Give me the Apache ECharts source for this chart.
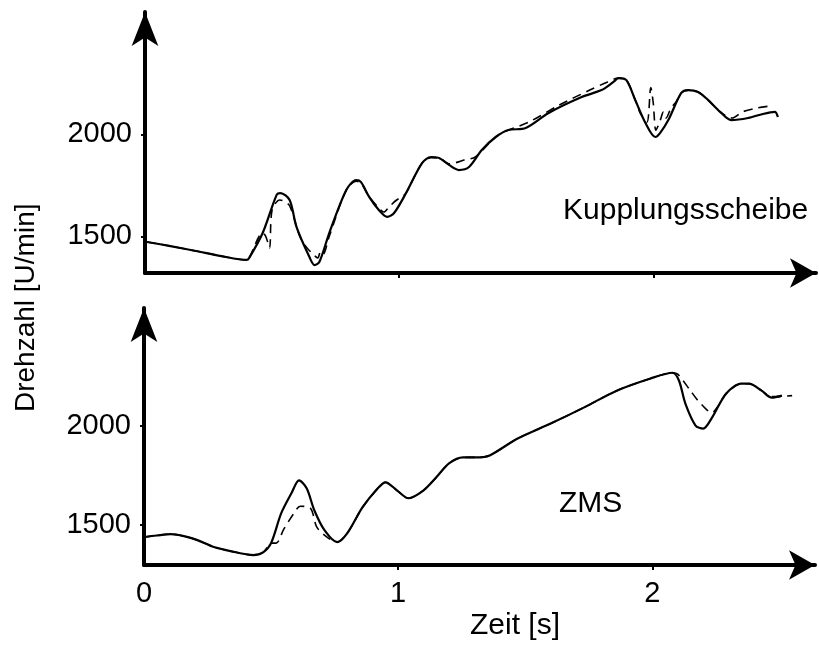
<!DOCTYPE html>
<html>
<head>
<meta charset="utf-8">
<script src="https://cdn.jsdelivr.net/npm/echarts@6/dist/echarts.min.js"></script>
<style>
  html, body { margin: 0; padding: 0; background: #fff; }
  #chart { width: 819px; height: 646px; }
</style>
</head>
<body>
<div id="chart"></div>
<script>
// Drehzahlverlauf Kupplungsscheibe (oben) und ZMS (unten), Messung (durchgezogen) und Rechnung (gestrichelt)

// Kupplungsscheibe, durchgezogen
var kupSolidT = [0.008, 0.10, 0.20, 0.30, 0.40, 0.41, 0.463, 0.518, 0.533, 0.569, 0.596, 0.647, 0.667, 0.686, 0.725, 0.792, 0.831, 0.85, 0.882, 0.92, 0.953, 0.98, 1.027, 1.09, 1.125, 1.157, 1.196, 1.235, 1.275, 1.325, 1.38, 1.43, 1.498, 1.588, 1.718, 1.796, 1.843, 1.863, 1.894, 1.929, 1.969, 2.008, 2.027, 2.059, 2.11, 2.137, 2.176, 2.216, 2.263, 2.306, 2.373, 2.431, 2.478, 2.49];
var kupSolidV = [1472, 1452, 1428, 1403, 1384, 1394, 1516, 1703, 1712, 1678, 1546, 1398, 1359, 1374, 1516, 1727, 1776, 1766, 1693, 1629, 1595, 1614, 1712, 1859, 1889, 1884, 1850, 1825, 1840, 1923, 1987, 2021, 2031, 2105, 2183, 2217, 2257, 2276, 2266, 2168, 2056, 1987, 2007, 2070, 2203, 2217, 2208, 2168, 2110, 2070, 2080, 2100, 2110, 2085];

// Kupplungsscheibe, gestrichelt
var kupDashT = [0.008, 0.10, 0.20, 0.30, 0.40, 0.41, 0.463, 0.475, 0.49, 0.50, 0.53, 0.545, 0.569, 0.61, 0.635, 0.655, 0.68, 0.69, 0.70, 0.725, 0.792, 0.831, 0.85, 0.882, 0.92, 0.94, 0.96, 0.99, 1.01, 1.027, 1.09, 1.125, 1.157, 1.196, 1.22, 1.255, 1.30, 1.39, 1.51, 1.63, 1.75, 1.82, 1.863, 1.894, 1.929, 1.95, 1.975, 1.99, 2.00, 2.01, 2.025, 2.04, 2.05, 2.07, 2.09, 2.11, 2.137, 2.176, 2.216, 2.263, 2.31, 2.35, 2.41, 2.46];
var kupDashV = [1472, 1452, 1428, 1403, 1384, 1394, 1516, 1500, 1443, 1629, 1678, 1673, 1650, 1497, 1447, 1420, 1394, 1423, 1410, 1500, 1727, 1770, 1760, 1693, 1639, 1619, 1644, 1678, 1693, 1712, 1859, 1885, 1884, 1855, 1860, 1874, 1890, 1997, 2060, 2144, 2217, 2257, 2276, 2266, 2168, 2100, 2060, 2230, 2150, 2020, 2060, 2110, 2080, 2130, 2160, 2203, 2217, 2208, 2168, 2110, 2080, 2110, 2130, 2139];

// ZMS, durchgezogen
var zmsSolidT = [0.00, 0.05, 0.106, 0.157, 0.21, 0.275, 0.34, 0.43, 0.47, 0.50, 0.54, 0.58, 0.61, 0.64, 0.67, 0.71, 0.76, 0.80, 0.86, 0.92, 0.95, 0.995, 1.04, 1.10, 1.15, 1.20, 1.255, 1.31, 1.36, 1.47, 1.60, 1.73, 1.86, 1.99, 2.08, 2.105, 2.13, 2.17, 2.20, 2.235, 2.29, 2.35, 2.38, 2.43, 2.47, 2.51];
var zmsSolidV = [1440, 1448, 1455, 1445, 1425, 1390, 1370, 1350, 1365, 1410, 1560, 1660, 1725, 1685, 1575, 1475, 1415, 1460, 1590, 1685, 1715, 1675, 1635, 1675, 1740, 1810, 1840, 1840, 1850, 1935, 2010, 2090, 2175, 2235, 2265, 2225, 2110, 2000, 1985, 2040, 2160, 2210, 2210, 2175, 2140, 2150];

// ZMS, gestrichelt
var zmsDashT = [0.00, 0.05, 0.106, 0.157, 0.21, 0.275, 0.34, 0.43, 0.47, 0.50, 0.52, 0.55, 0.59, 0.615, 0.655, 0.68, 0.72, 0.76, 0.80, 0.86, 0.92, 0.95, 0.995, 1.04, 1.10, 1.15, 1.20, 1.255, 1.31, 1.36, 1.47, 1.60, 1.73, 1.86, 1.99, 2.08, 2.10, 2.15, 2.18, 2.235, 2.26, 2.29, 2.35, 2.38, 2.43, 2.47, 2.55];
var zmsDashV = [1440, 1448, 1455, 1445, 1425, 1390, 1370, 1350, 1365, 1410, 1410, 1480, 1560, 1595, 1585, 1490, 1440, 1415, 1460, 1590, 1685, 1715, 1675, 1635, 1675, 1740, 1810, 1840, 1840, 1850, 1935, 2010, 2090, 2175, 2235, 2265, 2258, 2175, 2125, 2065, 2100, 2160, 2210, 2210, 2175, 2145, 2150];

// Achsbeschriftungen
var timeTicks = [0, 1, 2];
var speedTicks = [1500, 2000];

function pairs(t, v) {
  return t.map(function (x, i) { return [x, v[i]]; });
}

var FONT = '"Liberation Sans", Arial, Helvetica, sans-serif';
var INK = '#000';
var plain = function (v) { return String(v); };

function xAxisFor(gridIndex, withLabels) {
  return {
    type: 'value', gridIndex: gridIndex, min: 0, max: 2.64,
    axisLine: { show: true, symbol: ['none', 'arrow'], symbolSize: [22, 26],
      lineStyle: { color: INK, width: 4 } },
    axisTick: { show: true, customValues: [1, 2], length: 5, inside: false,
      lineStyle: { color: INK, width: 2 } },
    axisLabel: withLabels
      ? { show: true, customValues: timeTicks, formatter: plain, color: INK, fontFamily: FONT, fontSize: 29, margin: 14 }
      : { show: false },
    splitLine: { show: false }
  };
}

function yAxisFor(gridIndex, min, max) {
  return {
    type: 'value', gridIndex: gridIndex, min: min, max: max,
    axisLine: { show: true, symbol: ['none', 'arrow'], symbolSize: [20, 34],
      lineStyle: { color: INK, width: 4 } },
    axisTick: { show: true, customValues: speedTicks, length: 4,
      lineStyle: { color: INK, width: 2 } },
    axisLabel: { show: true, customValues: speedTicks, formatter: plain, color: INK, fontFamily: FONT, fontSize: 29, margin: 13 },
    splitLine: { show: false }
  };
}

function line(name, idx, data, dashed) {
  return {
    name: name, type: 'line', xAxisIndex: idx, yAxisIndex: idx,
    data: data, showSymbol: false, smooth: 0.3, silent: true,
    lineStyle: dashed
      ? { color: INK, width: 1.6, type: [9, 6] }
      : { color: INK, width: 2.2 },
    z: dashed ? 3 : 4
  };
}

var chart = echarts.init(document.getElementById('chart'), null, { renderer: 'canvas' });
chart.setOption({
  backgroundColor: '#fff',
  animation: false,
  grid: [
    { left: 145, top: 12, width: 671, height: 261 },
    { left: 144, top: 308, width: 671, height: 257 }
  ],
  xAxis: [xAxisFor(0, false), xAxisFor(1, true)],
  yAxis: [yAxisFor(0, 1320, 2600), yAxisFor(1, 1300, 2590)],
  series: [
    line('Kupplungsscheibe gemessen', 0, pairs(kupSolidT, kupSolidV), false),
    line('Kupplungsscheibe berechnet', 0, pairs(kupDashT, kupDashV), true),
    line('ZMS gemessen', 1, pairs(zmsSolidT, zmsSolidV), false),
    line('ZMS berechnet', 1, pairs(zmsDashT, zmsDashV), true)
  ],
  graphic: [
    { type: 'text', left: 563, top: 196,
      style: { text: 'Kupplungsscheibe', font: '30px ' + FONT, fill: INK } },
    { type: 'text', left: 559, top: 489,
      style: { text: 'ZMS', font: '30px ' + FONT, fill: INK } },
    { type: 'text', x: 470, y: 611,
      style: { text: 'Zeit [s]', font: '30px ' + FONT, fill: INK } },
    { type: 'text', x: 12, y: 412, rotation: Math.PI / 2,
      style: { text: 'Drehzahl [U/min]', font: '28px ' + FONT, fill: INK } }
  ]
});
</script>
</body>
</html>
